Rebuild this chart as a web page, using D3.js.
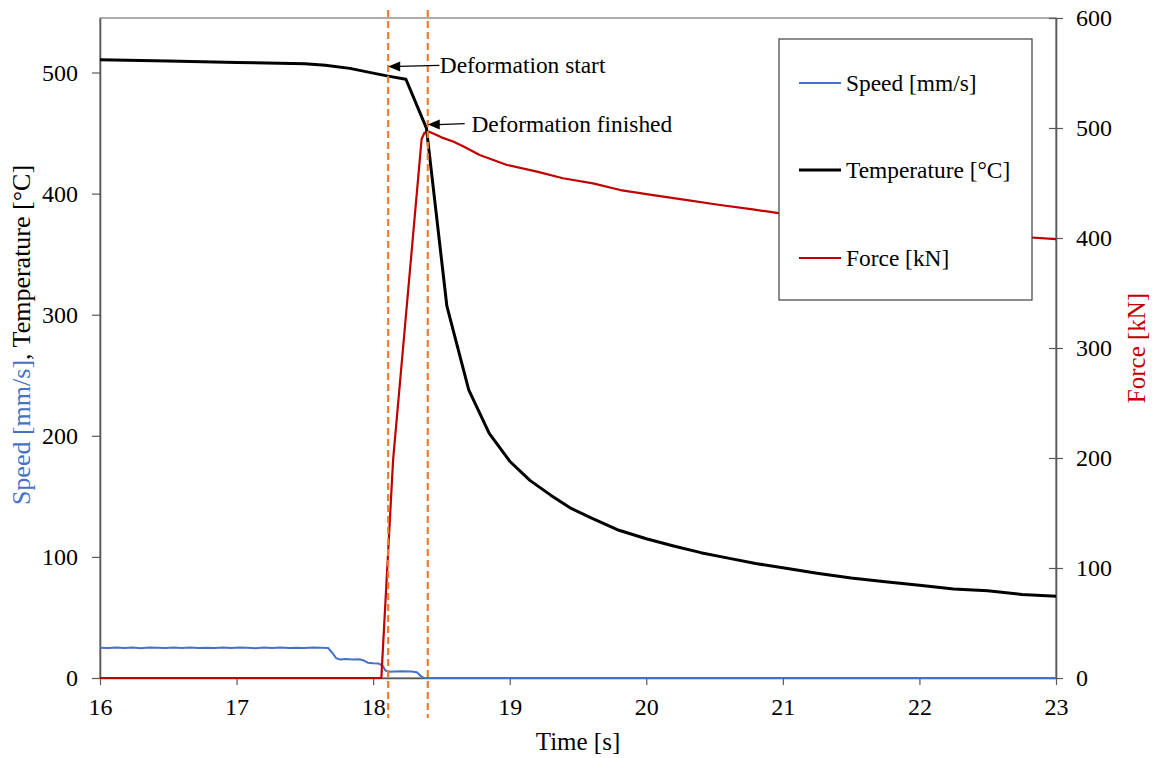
<!DOCTYPE html>
<html>
<head>
<meta charset="utf-8">
<script src="https://cdn.jsdelivr.net/npm/d3@7/dist/d3.min.js"></script>
<style>
  html, body { margin: 0; padding: 0; background: #fff; }
  svg { display: block; font-family: "Liberation Serif", "Times New Roman", serif; }
</style>
</head>
<body>
<svg id="chart" width="1157" height="758"></svg>
<script>
// Time axis
const timeTicks = [16, 17, 18, 19, 20, 21, 22, 23];
const leftTicks = [0, 100, 200, 300, 400, 500];
const rightTicks = [0, 100, 200, 300, 400, 500, 600];

// Speed [mm/s]
const speedTime = [16.00, 16.06, 16.12, 16.18, 16.24, 16.30, 16.36, 16.42, 16.48, 16.54,
  16.60, 16.66, 16.72, 16.78, 16.84, 16.90, 16.96, 17.02, 17.08, 17.14,
  17.20, 17.26, 17.32, 17.38, 17.44, 17.50, 17.56, 17.62,
  17.67, 17.70, 17.73, 17.76, 17.80, 17.85, 17.90, 17.93, 17.96, 18.00,
  18.04, 18.07, 18.09, 18.12, 18.20, 18.28, 18.32, 18.35, 18.37, 18.40,
  19.0, 20.0, 21.0, 22.0, 23.0];
const speedValue = [25.0, 24.7, 25.2, 24.8, 25.1, 24.6, 25.2, 24.9, 24.7, 25.1,
  24.8, 25.2, 24.7, 25.0, 24.8, 25.2, 24.7, 25.1, 24.9, 24.6,
  25.1, 24.8, 25.2, 24.7, 25.0, 24.8, 25.1, 24.9,
  24.8, 21.0, 16.3, 15.2, 15.6, 15.3, 15.5, 14.5, 12.6, 12.2,
  11.9, 10.2, 6.2, 5.2, 5.5, 5.3, 4.8, 1.5, 0.2, 0,
  0, 0, 0, 0, 0];

// Temperature [°C]
const tempTime = [16.0, 16.5, 17.0, 17.5, 17.65, 17.83, 18.0, 18.11, 18.24, 18.39,
  18.54, 18.70, 18.85, 19.0, 19.15, 19.3, 19.45, 19.6, 19.8, 20.0,
  20.2, 20.4, 20.6, 20.8, 21.0, 21.25, 21.5, 21.75, 22.0, 22.25,
  22.5, 22.75, 23.0];
const tempValue = [510.6, 509.5, 508.3, 507.3, 506.0, 503.4, 499.5, 497.0, 494.4, 454.0,
  307, 238, 202, 179, 163, 151, 140, 132, 122, 115,
  109, 103.5, 99, 94.5, 91, 86.5, 82.5, 79.5, 76.5, 73.5,
  72, 69, 67.5];

// Force [kN]
const forceTime = [16, 17, 18, 18.06, 18.146, 18.355, 18.375, 18.40, 18.44, 18.50, 18.59,
  18.68, 18.78, 18.98, 19.20, 19.39, 19.61, 19.81, 20.05, 20.30, 20.54, 20.78,
  20.98, 21.5, 22.0, 22.5, 23.0];
const forceValue = [0, 0, 0, 0, 198, 490, 495.5, 497, 495, 491.5, 487.5,
  482, 475.5, 466.4, 460.3, 454.3, 449.7, 443.6, 439, 434.5, 430, 426,
  422.4, 414, 408, 403, 399];

// Deformation window markers
const markerTimes = [18.11, 18.40];
const annotations = [
  { label: "Deformation start", t: 18.11, value: 505, tailT: 18.485, textT: 18.488 },
  { label: "Deformation finished", t: 18.40, value: 457, tailT: 18.67, textT: 18.72 }
];

const seriesNames = ["Speed [mm/s]", "Temperature [°C]", "Force [kN]"];
const colors = { speed: "#4472C4", temp: "#000000", force: "#C00000", marker: "#ED7D31", axis: "#595959" };

const svg = d3.select("#chart");
const plotLeft = 100, plotRight = 1056, plotTop = 18, plotBottom = 678;

const x = d3.scaleLinear().domain([16, 23]).range([plotLeft, plotRight]);
const yL = d3.scaleLinear().domain([0, 545]).range([plotBottom, plotTop]);
const yR = d3.scaleLinear().domain([0, 600]).range([plotBottom, plotTop]);

// plot area frame
svg.append("rect")
  .attr("x", plotLeft).attr("y", plotTop)
  .attr("width", plotRight - plotLeft).attr("height", plotBottom - plotTop)
  .attr("fill", "none").attr("stroke", "#808080").attr("stroke-width", 1.3);

const tickFont = 24, noteFont = 23.4;

// left axis
const gL = svg.append("g").attr("transform", `translate(${plotLeft},0)`)
  .call(d3.axisLeft(yL).tickValues(leftTicks).tickSize(8).tickPadding(14).tickSizeOuter(0));
// bottom axis
const gB = svg.append("g").attr("transform", `translate(0,${plotBottom})`)
  .call(d3.axisBottom(x).tickValues(timeTicks).tickFormat(d3.format("d")).tickSize(7).tickPadding(13).tickSizeOuter(0));
// right axis
const gR = svg.append("g").attr("transform", `translate(${plotRight},0)`)
  .call(d3.axisRight(yR).tickValues(rightTicks).tickSize(7).tickPadding(13).tickSizeOuter(0));
gR.selectAll(".tick line").attr("x1", -7);

[gL, gB, gR].forEach(g => {
  g.select(".domain").attr("stroke", colors.axis).attr("stroke-width", 1.6);
  g.selectAll(".tick line").attr("stroke", colors.axis).attr("stroke-width", 1.2);
  g.selectAll(".tick text").attr("font-size", tickFont).attr("fill", "#000")
    .attr("font-family", "Liberation Serif, Times New Roman, serif");
});

// series
const line = (ts, vs, y) => d3.line().x((d, i) => x(ts[i])).y((d, i) => y(vs[i]))(vs);

svg.append("path").attr("d", line(speedTime, speedValue, yL))
  .attr("fill", "none").attr("stroke", colors.speed).attr("stroke-width", 2).attr("stroke-linejoin", "round");
svg.append("path").attr("d", line(forceTime, forceValue, yR))
  .attr("fill", "none").attr("stroke", colors.force).attr("stroke-width", 2.2).attr("stroke-linejoin", "round");
svg.append("path").attr("d", line(tempTime, tempValue, yL))
  .attr("fill", "none").attr("stroke", colors.temp).attr("stroke-width", 3).attr("stroke-linejoin", "round");

// dashed markers
svg.selectAll(".marker").data(markerTimes).enter().append("line")
  .attr("x1", d => x(d)).attr("x2", d => x(d))
  .attr("y1", 10).attr("y2", 718)
  .attr("stroke", colors.marker).attr("stroke-width", 2.2)
  .attr("stroke-dasharray", "7,4");

// annotations with arrows
annotations.forEach(a => {
  const tx = x(a.t), ty = yL(a.value), ex = x(a.tailT);
  svg.append("line").attr("x1", tx + 10).attr("y1", ty).attr("x2", ex).attr("y2", ty - 1)
    .attr("stroke", "#000").attr("stroke-width", 1.2);
  svg.append("path")
    .attr("d", `M${tx},${ty} L${tx + 12},${ty - 5} L${tx + 12},${ty + 5} Z`)
    .attr("fill", "#000");
  svg.append("text").attr("x", x(a.textT)).attr("y", ty + 7)
    .attr("font-size", noteFont).attr("fill", "#000").text(a.label);
});

// legend
const lg = svg.append("g");
lg.append("rect").attr("x", 779).attr("y", 39).attr("width", 253).attr("height", 261)
  .attr("fill", "#fff").attr("stroke", "#404040").attr("stroke-width", 1.2);
const legendItems = [
  { name: seriesNames[0], color: colors.speed, w: 2, y: 83 },
  { name: seriesNames[1], color: colors.temp, w: 3, y: 170 },
  { name: seriesNames[2], color: colors.force, w: 2, y: 258 }
];
legendItems.forEach(it => {
  lg.append("line").attr("x1", 799).attr("x2", 841).attr("y1", it.y).attr("y2", it.y)
    .attr("stroke", it.color).attr("stroke-width", it.w);
  lg.append("text").attr("x", 846).attr("y", it.y + 8).attr("font-size", noteFont)
    .attr("fill", "#000").text(it.name);
});

// axis titles
svg.append("text").attr("x", (plotLeft + plotRight) / 2).attr("y", 750)
  .attr("text-anchor", "middle").attr("font-size", 25).text("Time [s]");

const lt = svg.append("text")
  .attr("transform", "translate(30,335) rotate(-90)")
  .attr("text-anchor", "middle").attr("font-size", 26);
lt.append("tspan").attr("fill", colors.speed).text("Speed [mm/s]");
lt.append("tspan").attr("fill", "#000").text(", Temperature [°C]");

svg.append("text")
  .attr("transform", "translate(1145,348) rotate(-90)")
  .attr("text-anchor", "middle").attr("font-size", 25)
  .attr("fill", colors.force).text("Force [kN]");
</script>
</body>
</html>
